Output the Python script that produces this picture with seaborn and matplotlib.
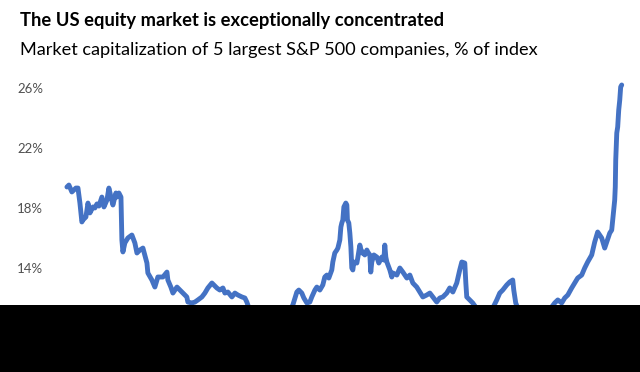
import matplotlib
matplotlib.use("Agg")
import matplotlib.pyplot as plt
from matplotlib.patches import Rectangle
from matplotlib.ticker import FuncFormatter
import seaborn as sns
import pandas as pd

# Share of S&P 500 market cap held by the 5 largest companies (%)
years = [
    1976.00, 1976.17, 1976.43, 1976.78, 1976.96, 1977.13, 1977.30, 1977.39, 1977.65, 1977.83,
    1978.00, 1978.26, 1978.43, 1978.61, 1978.78, 1979.04, 1979.22, 1979.48, 1979.65, 1979.83,
    1980.00, 1980.26, 1980.35, 1980.52, 1980.70, 1980.78, 1980.87, 1981.04, 1981.30, 1981.65,
    1981.91, 1982.09, 1982.35, 1982.61, 1982.96, 1983.04, 1983.39, 1983.65, 1983.91, 1984.35,
    1984.70, 1984.78, 1985.04, 1985.22, 1985.57, 1985.83, 1986.09, 1986.43, 1986.52, 1986.87,
    1987.13, 1987.39, 1987.74, 1988.00, 1988.26, 1988.61, 1988.78, 1989.04, 1989.30, 1989.57,
    1989.74, 1990.00, 1990.35, 1990.61, 1990.87, 1991.22, 1991.48, 1991.65, 1991.83, 1992.35,
    1992.96, 1993.65, 1994.35, 1994.96, 1995.39, 1995.65, 1996.00, 1996.17, 1996.43, 1996.61,
    1996.87, 1997.13, 1997.30, 1997.57, 1997.74, 1998.00, 1998.26, 1998.43, 1998.61, 1998.78,
    1999.04, 1999.13, 1999.30, 1999.48, 1999.57, 1999.74, 1999.83, 1999.91, 2000.00, 2000.09,
    2000.26, 2000.35, 2000.40, 2000.52, 2000.61, 2000.70, 2000.78, 2000.87, 2000.96, 2001.22,
    2001.30, 2001.48, 2001.65, 2001.74, 2001.91, 2002.09, 2002.17, 2002.35, 2002.43, 2002.52,
    2002.70, 2002.96, 2003.13, 2003.39, 2003.57, 2003.65, 2003.74, 2003.83, 2004.09, 2004.26,
    2004.35, 2004.70, 2004.96, 2005.22, 2005.57, 2005.83, 2006.09, 2006.43, 2006.70, 2006.96,
    2007.30, 2007.57, 2007.83, 2008.17, 2008.43, 2008.70, 2009.04, 2009.30, 2009.57, 2009.91,
    2010.17, 2010.35, 2010.61, 2010.70, 2010.78, 2011.04, 2011.30, 2011.74, 2012.35, 2012.96,
    2013.39, 2013.65, 2013.91, 2014.26, 2014.52, 2014.78, 2014.87, 2015.04, 2015.39, 2016.09,
    2016.70, 2017.30, 2017.83, 2018.17, 2018.43, 2018.70, 2019.04, 2019.30, 2019.57, 2019.91,
    2020.17, 2020.43, 2020.78, 2021.04, 2021.30, 2021.65, 2021.91, 2022.17, 2022.52, 2022.78,
    2022.96, 2023.22, 2023.39, 2023.48, 2023.65, 2023.70, 2023.74, 2023.83, 2023.91, 2024.00,
    2024.09, 2024.17, 2024.26,
]
share = [
    19.40, 19.53, 19.07, 19.33, 19.33, 18.33, 17.07, 17.20, 17.40, 18.33,
    17.67, 18.07, 18.00, 18.27, 18.13, 18.73, 18.07, 18.53, 19.33, 18.73,
    18.20, 19.00, 18.73, 19.00, 18.73, 15.87, 15.07, 15.67, 16.00, 16.20,
    15.67, 15.00, 15.20, 15.33, 14.33, 13.67, 13.20, 12.73, 13.40, 13.40,
    13.73, 13.20, 12.73, 12.33, 12.73, 12.53, 12.33, 12.07, 11.73, 11.67,
    11.73, 11.87, 12.07, 12.33, 12.67, 13.00, 12.87, 12.67, 12.53, 12.67,
    12.33, 12.40, 12.07, 12.33, 12.20, 12.07, 12.00, 11.73, 11.33, 10.90,
    10.60, 10.80, 10.50, 10.90, 11.20, 11.53, 12.40, 12.53, 12.33, 12.00,
    11.67, 11.73, 12.07, 12.53, 12.73, 12.53, 12.87, 13.40, 13.53, 13.33,
    13.87, 14.40, 15.00, 15.20, 15.33, 15.87, 16.73, 17.00, 17.20, 18.07,
    18.33, 18.20, 17.20, 17.00, 16.33, 15.40, 14.00, 13.87, 14.40, 14.33,
    14.67, 15.53, 15.00, 15.07, 14.87, 15.20, 15.07, 14.87, 13.73, 14.40,
    14.87, 14.73, 14.33, 14.73, 14.53, 15.53, 14.73, 14.40, 13.87, 13.40,
    13.67, 13.53, 14.00, 13.73, 13.33, 13.53, 13.00, 12.73, 12.40, 12.07,
    12.20, 12.33, 12.07, 11.73, 12.00, 12.07, 12.33, 12.67, 12.40, 13.00,
    13.87, 14.40, 14.33, 13.00, 12.07, 11.87, 11.67, 11.20, 10.90, 11.20,
    11.87, 12.33, 12.53, 12.87, 13.07, 13.20, 12.53, 11.67, 11.00, 10.80,
    11.00, 10.90, 11.20, 11.40, 11.67, 11.87, 11.67, 12.00, 12.20, 12.67,
    13.00, 13.33, 13.53, 14.00, 14.40, 14.87, 15.73, 16.40, 16.00, 15.33,
    15.73, 16.33, 16.53, 17.20, 18.53, 19.40, 21.20, 23.00, 23.40, 24.53,
    25.20, 26.07, 26.20,
]
y_ticks = [14, 18, 22, 26]

df = pd.DataFrame({"year": years, "share": share})

sns.set_style("white")
plt.rcParams["font.family"] = ["Lato", "DejaVu Sans"]

fig = plt.figure(figsize=(6.4, 3.72), dpi=100)
ax = fig.add_axes([0.078, 0.0376, 0.906, 0.7662])

sns.lineplot(data=df, x="year", y="share", ax=ax, color="#4472C4", linewidth=3.5)

ax.set_xlim(1974.52, 2024.96)
ax.set_ylim(8, 27)
ax.set_yticks(y_ticks)
ax.yaxis.set_major_formatter(FuncFormatter(lambda v, p: f"{v:.0f}%"))
ax.set_xticks([])
ax.tick_params(axis="y", length=0, pad=5, labelsize=9.5, labelcolor="#505050")
ax.set_xlabel("")
ax.set_ylabel("")
for s in ax.spines.values():
    s.set_visible(False)

fig.text(0.031, 0.946, "The US equity market is exceptionally concentrated",
         fontsize=13.2, fontweight="bold", color="#000000", va="center")
fig.text(0.031, 0.866, "Market capitalization of 5 largest S&P 500 companies, % of index",
         fontsize=13.1, color="#000000", va="center")

# black bar covering the lower part of the chart
fig.add_artist(Rectangle((0, 0), 1, 67 / 372, transform=fig.transFigure,
                         facecolor="black", edgecolor="none", zorder=10))

fig.savefig("out.png", dpi=100)
